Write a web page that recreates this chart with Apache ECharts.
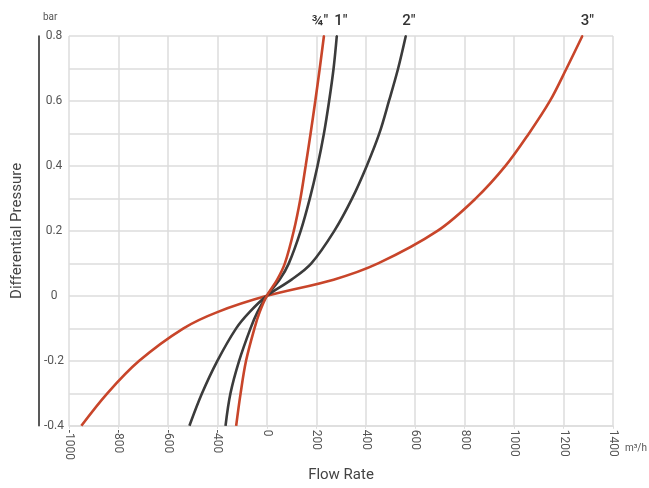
<!DOCTYPE html>
<html>
<head>
<meta charset="utf-8">
<script src="https://cdn.jsdelivr.net/npm/echarts@6/dist/echarts.min.js"></script>
<style>
html,body{margin:0;padding:0;background:#fff;}
#c{width:649px;height:488px;}
</style>
</head>
<body>
<div id="c"></div>
<script>
// Pressure levels (bar) at which flow was read for every curve
const pressure = [-0.4, -0.3, -0.2, -0.1, -0.05, 0, 0.05, 0.1, 0.2, 0.3, 0.4, 0.5, 0.6, 0.7, 0.8];
// Flow values (axis units) for each valve size
const flow34 = [-124, -106, -84, -50, -29, 0, 42, 73, 109, 136, 157, 177, 196, 214, 231];
const flow1  = [-167, -147, -112, -66, -38, 0, 52, 89, 137, 174, 205, 231, 252, 270, 283];
const flow2  = [-313, -262, -200, -124, -70, 0, 100, 180, 273, 345, 404, 455, 494, 531, 562];
const flow3  = [-750, -645, -516, -337, -200, 0, 270, 450, 690, 845, 965, 1060, 1145, 1212, 1276];
const seriesNames = ['3"', '2"', '1"', '¾"'];
// Tick labels as printed on the x axis
const xTickLabels = ['-1000', '-800', '-600', '-400', '0', '200', '400', '600', '800', '1000', '1200', '1400'];

const RED = '#c8452a', GRAY = '#3b3b3b';
const flows = [flow3, flow2, flow1, flow34];
const colors = [RED, GRAY, GRAY, RED];
const labelShift = [5, 3, 4, -4];

function build(flow, name, color, shift) {
  return flow.map((x, i) => {
    if (i === flow.length - 1) {
      return {
        value: [x, pressure[i]],
        symbol: 'circle', symbolSize: 2,
        itemStyle: {color: color},
        label: {
          show: true, position: 'top', distance: 6, offset: [shift, 0],
          formatter: name,
          fontFamily: 'Roboto', fontWeight: 500,
          fontSize: 15, color: '#333'
        }
      };
    }
    return {value: [x, pressure[i]], symbol: 'none'};
  });
}

const chart = echarts.init(document.getElementById('c'), null, {renderer: 'canvas'});
chart.setOption({
  animation: false,
  textStyle: {fontFamily: 'Roboto'},
  grid: {left: 69, right: 36, top: 36, bottom: 60, containLabel: false},
  xAxis: {
    type: 'value', min: -800, max: 1400, interval: 200,
    name: 'Flow Rate', nameLocation: 'middle', nameGap: 41,
    nameTextStyle: {fontSize: 15, color: '#444', fontFamily: 'Roboto'},
    axisLine: {show: true, onZero: false, lineStyle: {color: '#dddddd', width: 1.5}},
    axisTick: {show: true, length: 3, lineStyle: {color: '#dddddd'}},
    splitLine: {show: true, lineStyle: {color: '#dddddd', width: 1.5}},
    axisLabel: {
      rotate: -90, margin: 4, fontSize: 12, color: '#555',
      formatter: v => xTickLabels[Math.round((v + 800) / 200)]
    }
  },
  yAxis: [{
    type: 'value', min: -0.4, max: 0.8, interval: 0.2, position: 'left', offset: 30,
    name: 'Differential Pressure', nameLocation: 'middle', nameGap: 14,
    nameTextStyle: {fontSize: 15, color: '#444', fontFamily: 'Roboto'},
    axisLine: {show: true, onZero: false, lineStyle: {color: '#222', width: 1.5}},
    axisTick: {show: false},
    axisLabel: {
      inside: true, margin: 15, align: 'center', fontSize: 12, color: '#555',
      formatter: v => (Math.abs(v) < 1e-9 ? '0' : v.toFixed(1))
    },
    splitLine: {show: true, lineStyle: {color: '#dddddd', width: 1.5}},
    minorTick: {show: false, splitNumber: 2},
    minorSplitLine: {show: true, lineStyle: {color: '#dddddd', width: 1.5}}
  }, {
    type: 'value', min: -0.4, max: 0.8, position: 'left', offset: 30,
    name: 'bar', nameLocation: 'end', nameGap: 14,
    nameTextStyle: {fontSize: 10, color: '#555', align: 'left', padding: [0, 0, 0, 4]},
    axisLine: {show: false, onZero: false}, axisTick: {show: false}, axisLabel: {show: false},
    splitLine: {show: false}
  }],
  graphic: [{
    type: 'text', right: 2, top: 443,
    style: {text: 'm³/h', fontSize: 10, fill: '#555', fontFamily: 'Roboto'}
  }],
  series: flows.map((f, k) => ({
    name: seriesNames[k], type: 'line', smooth: 0.35,
    showSymbol: true, clip: false,
    lineStyle: {color: colors[k], width: 2.6},
    itemStyle: {color: colors[k]},
    data: build(f, seriesNames[k], colors[k], labelShift[k])
  }))
});
</script>
</body>
</html>
